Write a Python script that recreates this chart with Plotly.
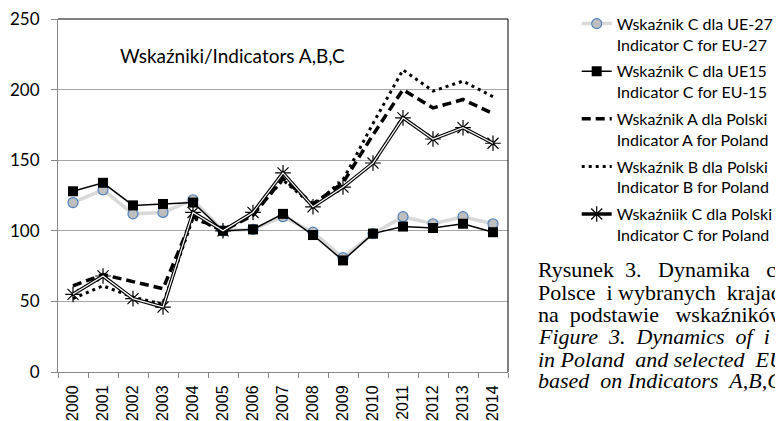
import plotly.graph_objects as go

years = [str(y) for y in range(2000, 2015)]
eu27 = [120, 129, 112, 113, 122, 100, 101, 110, 99, 81, 98, 110, 105, 110, 105]
eu15 = [128, 134, 118, 119, 120, 100, 101, 112, 97, 79, 98, 103, 102, 105, 99]
ind_a_pl = [61, 69, 64, 59, 110, 100, 111, 137, 119, 134, 168, 200, 187, 193, 183]
ind_b_pl = [52, 61, 53, 48, 109, 100, 112, 136, 118, 136, 176, 214, 199, 206, 195]
ind_c_pl = [55, 68, 52, 46, 113, 100, 113, 141, 117, 131, 148, 180, 165, 173, 162]

names = [
    "Wskaźnik C dla UE-27<br>Indicator C for EU-27",
    "Wskaźnik C dla UE15<br>Indicator C for EU-15",
    "Wskaźnik A dla Polski<br>Indicator A for Poland",
    "Wskaźnik B dla Polski<br>Indicator B for Poland",
    "Wskaźniik C dla Polski<br>Indicator C for Poland",
]

S2, S3 = "&nbsp;&nbsp;", "&nbsp;&nbsp;&nbsp;"
caption = [
    ("Rysunek" + S2 + "3." + S3 + "Dynamika" + S3 + "cen", False),
    ("Polsce" + S2 + "i wybranych" + S2 + "krajach UE", False),
    ("na" + S2 + "podstawie" + S3 + "wskaźników A,B,C", False),
    ("Figure" + S2 + "3." + S2 + "Dynamics" + S2 + "of" + S2 + "i", True),
    ("in Poland" + S2 + "and selected" + S2 + "EU countries", True),
    ("based" + S2 + "on Indicators" + S2 + "A,B,C", True),
]

OFF = 8  # page body margin
W, H = 783 - OFF, 421 - OFF
L, R, T, B = 58.3 - OFF, 508.3 - OFF, 19.3 - OFF, 372.3 - OFF


def px(x):
    return (x - OFF - L) / (R - L)


def py(y):
    return (B - (y - OFF)) / (B - T)


fig = go.Figure()
fig.add_trace(go.Scatter(
    x=years, y=eu27, name=names[0], legendgroup="g1", mode="lines+markers",
    line=dict(color="#d9d9d9", width=3.5),
    marker=dict(symbol="circle", size=10, color="#bfbfbf", line=dict(color="#4f81bd", width=1.2)),
))
fig.add_trace(go.Scatter(
    x=years, y=eu15, name=names[1], legendgroup="g2", mode="lines+markers",
    line=dict(color="black", width=1.5),
    marker=dict(symbol="square", size=10, color="black"),
))
fig.add_trace(go.Scatter(
    x=years, y=ind_a_pl, name=names[2], legendgroup="g3", mode="lines",
    line=dict(color="black", width=3.5, dash="9px,5px"),
))
fig.add_trace(go.Scatter(
    x=years, y=ind_b_pl, name=names[3], legendgroup="g4", mode="lines",
    line=dict(color="black", width=3, dash="3px,4px"),
))
fig.add_trace(go.Scatter(
    x=years, y=ind_c_pl, name=names[4], legendgroup="g5", mode="lines+markers",
    line=dict(color="black", width=3.5),
    marker=dict(symbol="asterisk-open", size=13, color="black", line=dict(color="black", width=1.2)),
))
fig.add_trace(go.Scatter(
    x=years, y=ind_c_pl, mode="lines", showlegend=False, hoverinfo="skip",
    line=dict(color="white", width=1.2),
))

annotations = [dict(
    text="Wskaźniki/Indicators A,B,C", xref="paper", yref="paper",
    x=px(118), y=py(55.5), xanchor="left", yanchor="middle", showarrow=False,
    font=dict(family="Lato", size=19, color="black"),
)]
base = [270.0, 292.5, 314.7, 337.2, 359.5, 381.3]
for (txt, it), yy in zip(caption, base):
    annotations.append(dict(
        text=("<i>%s</i>" % txt) if it else txt, xref="paper", yref="paper",
        x=px(536), y=py(yy), xanchor="left", yanchor="middle", showarrow=False,
        font=dict(family="Liberation Serif", size=22, color="black"),
    ))

fig.update_layout(
    width=W, height=H,
    margin=dict(l=L, r=W - R, t=T, b=H - B, pad=0, autoexpand=False),
    paper_bgcolor="white", plot_bgcolor="white",
    showlegend=True,
    legend=dict(
        x=px(577), y=py(7), xanchor="left", yanchor="top",
        font=dict(family="Lato", size=16, color="black"),
        valign="top", tracegroupgap=3, bgcolor="rgba(0,0,0,0)",
        maxheight=400,
    ),
    annotations=annotations,
    shapes=[
        dict(type="line", xref="paper", yref="paper", x0=0, x1=1, y0=1, y1=1,
             line=dict(color="black", width=1)),
        dict(type="line", xref="paper", yref="paper", x0=1, x1=1, y0=0, y1=1,
             line=dict(color="black", width=1)),
    ],
    xaxis=dict(
        type="category", tickson="boundaries", ticks="outside", ticklen=5,
        tickcolor="#868686", showline=True, linecolor="#868686", linewidth=1,
        showgrid=False, tickangle=-90, ticklabelstandoff=6,
        tickfont=dict(family="Liberation Sans", size=16, color="black"),
        range=[-0.5, 14.5], automargin=False, ticklabeloverflow="allow",
    ),
    yaxis=dict(
        range=[0, 250], dtick=50, ticks="outside", ticklen=6, tickcolor="#868686",
        showline=True, linecolor="#868686", linewidth=1,
        showgrid=True, gridcolor="#a6a6a6", gridwidth=1, zeroline=False,
        ticklabelstandoff=8, automargin=False, ticklabeloverflow="allow",
        tickfont=dict(family="Lato", size=17, color="black"),
    ),
)

fig.write_html("out.html")
